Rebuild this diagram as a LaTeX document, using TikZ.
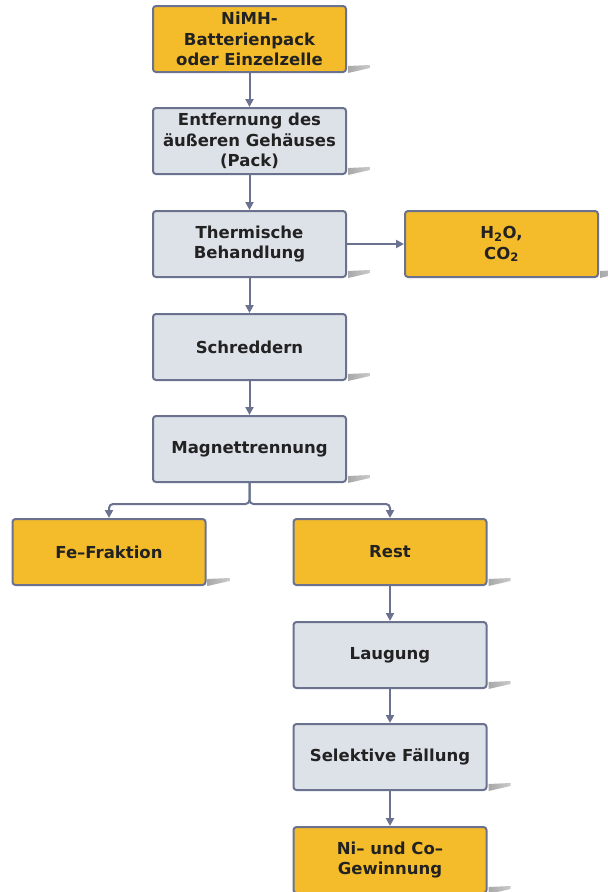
\documentclass[tikz,border=0pt]{standalone}
\usepackage{fontspec}
\setmainfont{DejaVu Sans}
\usetikzlibrary{arrows.meta}
\definecolor{boxorange}{HTML}{F4BC2A}
\definecolor{boxgray}{HTML}{DDE1E8}
\definecolor{edgeslate}{HTML}{6A7290}
\definecolor{txt}{HTML}{222222}
\definecolor{shadegray}{HTML}{A8A8A8}
\tikzset{
  base/.style={draw=edgeslate, line width=2pt, rounded corners=3pt,
    minimum width=193pt, minimum height=66pt, inner sep=2pt,
    align=center, text=txt, font=\fontsize{16.5}{20.5}\selectfont\bfseries},
  orangebox/.style={base, fill=boxorange},
  graybox/.style={base, fill=boxgray},
  flow/.style={draw=edgeslate, line width=2pt,
    -{Triangle[length=8pt,width=8pt]}},
  dropshade/.style={left color=shadegray, right color=shadegray!60, draw=none}
}
\begin{document}
\begin{tikzpicture}[x=1pt,y=-1pt]
  \clip (0,0) rectangle (608,892);
  \fill[white] (0,0) rectangle (608,892);

  \node[orangebox] (pack)  at (249.5,39)  {NiMH-\\Batterienpack\\oder Einzelzelle};
  \node[graybox]   (case)  at (249.5,141) {Entfernung des\\äußeren Gehäuses\\(Pack)};
  \node[graybox]   (therm) at (249.5,244) {Thermische\\Behandlung};
  \node[orangebox] (gas)   at (501.5,244) {H\textsubscript{2}O,\\CO\textsubscript{2}};
  \node[graybox]   (shred) at (249.5,347) {Schreddern};
  \node[graybox]   (magn)  at (249.5,449) {Magnettrennung};
  \node[orangebox] (fe)    at (109,552)   {Fe–Fraktion};
  \node[orangebox] (rest)  at (390,552)   {Rest};
  \node[graybox]   (leach) at (390,655)   {Laugung};
  \node[graybox]   (prec)  at (390,757)   {Selektive Fällung};
  \node[orangebox] (nico)  at (390,860)   {Ni– und Co–\\Gewinnung};

  % drop shadows at the lower right corners
  \foreach \n in {pack,case,therm,gas,shred,magn,fe,rest,leach,prec,nico}{
    \shade[dropshade] ([shift={(1,-7)}]\n.south east) -- ([shift={(23,-8)}]\n.south east)
      -- ([shift={(23,-5)}]\n.south east) -- ([shift={(1,0)}]\n.south east) -- cycle;
  }

  % connectors
  \draw[flow] (pack) -- (case);
  \draw[flow] (case) -- (therm);
  \draw[flow] (therm) -- (gas);
  \draw[flow] (therm) -- (shred);
  \draw[flow] (shred) -- (magn);
  \coordinate (split) at (249.5,504);
  \draw[flow, rounded corners=4pt] (magn.south) -- (split) -| (fe.north);
  \draw[flow, rounded corners=4pt] (magn.south) -- (split) -| (rest.north);
  \draw[flow] (rest) -- (leach);
  \draw[flow] (leach) -- (prec);
  \draw[flow] (prec) -- (nico);
\end{tikzpicture}
\end{document}
